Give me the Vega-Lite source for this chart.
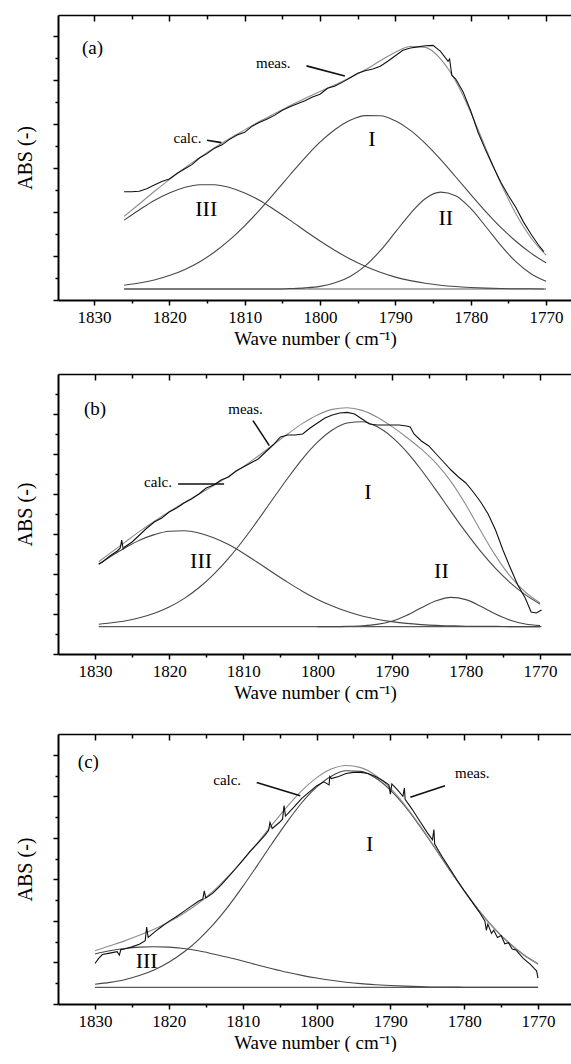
{
  "$schema": "https://vega.github.io/schema/vega-lite/v6.json",
  "padding": {"left": 15, "top": 14, "right": 0, "bottom": 0},
  "background": "white",
  "config": {
    "view": {"stroke": null},
    "font": "Liberation Serif",
    "axis": {"grid": false, "domainColor": "black", "tickColor": "black", "labelColor": "black", "titleColor": "black", "labelFont": "Liberation Serif", "titleFont": "Liberation Serif", "titleFontWeight": "normal"},
    "text": {"font": "Liberation Serif", "color": "black"}
  },
  "datasets": {
    "curves": [
      {"panel":"a","series":"base","wn":1826,"abs":0.5},{"panel":"a","series":"base","wn":1770.3,"abs":0.5},
      {"panel":"a","series":"I","wn":1826,"abs":0.67},{"panel":"a","series":"I","wn":1824,"abs":0.77},{"panel":"a","series":"I","wn":1822,"abs":0.91},{"panel":"a","series":"I","wn":1820,"abs":1.11},{"panel":"a","series":"I","wn":1818,"abs":1.38},{"panel":"a","series":"I","wn":1816,"abs":1.73},{"panel":"a","series":"I","wn":1814,"abs":2.18},{"panel":"a","series":"I","wn":1812,"abs":2.73},{"panel":"a","series":"I","wn":1810,"abs":3.37},{"panel":"a","series":"I","wn":1808,"abs":4.10},{"panel":"a","series":"I","wn":1806,"abs":4.88},{"panel":"a","series":"I","wn":1804,"abs":5.68},{"panel":"a","series":"I","wn":1802,"abs":6.46},{"panel":"a","series":"I","wn":1800,"abs":7.17},{"panel":"a","series":"I","wn":1798,"abs":7.75},{"panel":"a","series":"I","wn":1796,"abs":8.17},{"panel":"a","series":"I","wn":1794,"abs":8.38},{"panel":"a","series":"I","wn":1792,"abs":8.37},{"panel":"a","series":"I","wn":1790,"abs":8.14},{"panel":"a","series":"I","wn":1788,"abs":7.71},{"panel":"a","series":"I","wn":1786,"abs":7.11},{"panel":"a","series":"I","wn":1784,"abs":6.39},{"panel":"a","series":"I","wn":1782,"abs":5.60},{"panel":"a","series":"I","wn":1780,"abs":4.80},{"panel":"a","series":"I","wn":1778,"abs":4.02},{"panel":"a","series":"I","wn":1776,"abs":3.30},{"panel":"a","series":"I","wn":1774,"abs":2.67},{"panel":"a","series":"I","wn":1772,"abs":2.13},{"panel":"a","series":"I","wn":1770,"abs":1.69},
      {"panel":"a","series":"II","wn":1826,"abs":0.5},{"panel":"a","series":"II","wn":1816,"abs":0.5},{"panel":"a","series":"II","wn":1808,"abs":0.5},{"panel":"a","series":"II","wn":1806,"abs":0.50},{"panel":"a","series":"II","wn":1804,"abs":0.52},{"panel":"a","series":"II","wn":1802,"abs":0.55},{"panel":"a","series":"II","wn":1800,"abs":0.62},{"panel":"a","series":"II","wn":1798,"abs":0.78},{"panel":"a","series":"II","wn":1796,"abs":1.07},{"panel":"a","series":"II","wn":1794,"abs":1.55},{"panel":"a","series":"II","wn":1792,"abs":2.24},{"panel":"a","series":"II","wn":1790,"abs":3.08},{"panel":"a","series":"II","wn":1788,"abs":3.93},{"panel":"a","series":"II","wn":1786,"abs":4.61},{"panel":"a","series":"II","wn":1784,"abs":4.90},{"panel":"a","series":"II","wn":1782,"abs":4.74},{"panel":"a","series":"II","wn":1780,"abs":4.16},{"panel":"a","series":"II","wn":1778,"abs":3.34},{"panel":"a","series":"II","wn":1776,"abs":2.48},{"panel":"a","series":"II","wn":1774,"abs":1.74},{"panel":"a","series":"II","wn":1772,"abs":1.19},{"panel":"a","series":"II","wn":1770,"abs":0.85},
      {"panel":"a","series":"III","wn":1826,"abs":3.63},{"panel":"a","series":"III","wn":1824,"abs":4.09},{"panel":"a","series":"III","wn":1822,"abs":4.52},{"panel":"a","series":"III","wn":1820,"abs":4.86},{"panel":"a","series":"III","wn":1818,"abs":5.11},{"panel":"a","series":"III","wn":1816,"abs":5.24},{"panel":"a","series":"III","wn":1814,"abs":5.24},{"panel":"a","series":"III","wn":1812,"abs":5.11},{"panel":"a","series":"III","wn":1810,"abs":4.86},{"panel":"a","series":"III","wn":1808,"abs":4.52},{"panel":"a","series":"III","wn":1806,"abs":4.09},{"panel":"a","series":"III","wn":1804,"abs":3.63},{"panel":"a","series":"III","wn":1802,"abs":3.15},{"panel":"a","series":"III","wn":1800,"abs":2.68},{"panel":"a","series":"III","wn":1798,"abs":2.25},{"panel":"a","series":"III","wn":1796,"abs":1.86},{"panel":"a","series":"III","wn":1794,"abs":1.53},{"panel":"a","series":"III","wn":1792,"abs":1.26},{"panel":"a","series":"III","wn":1790,"abs":1.04},{"panel":"a","series":"III","wn":1788,"abs":0.88},{"panel":"a","series":"III","wn":1786,"abs":0.76},{"panel":"a","series":"III","wn":1784,"abs":0.67},{"panel":"a","series":"III","wn":1782,"abs":0.61},{"panel":"a","series":"III","wn":1780,"abs":0.57},{"panel":"a","series":"III","wn":1778,"abs":0.54},{"panel":"a","series":"III","wn":1776,"abs":0.52},{"panel":"a","series":"III","wn":1774,"abs":0.51},{"panel":"a","series":"III","wn":1772,"abs":0.51},{"panel":"a","series":"III","wn":1770,"abs":0.50},
      {"panel":"a","series":"calc","wn":1826,"abs":3.80},{"panel":"a","series":"calc","wn":1824,"abs":4.36},{"panel":"a","series":"calc","wn":1822,"abs":4.93},{"panel":"a","series":"calc","wn":1820,"abs":5.47},{"panel":"a","series":"calc","wn":1818,"abs":5.99},{"panel":"a","series":"calc","wn":1816,"abs":6.47},{"panel":"a","series":"calc","wn":1814,"abs":6.92},{"panel":"a","series":"calc","wn":1812,"abs":7.34},{"panel":"a","series":"calc","wn":1810,"abs":7.73},{"panel":"a","series":"calc","wn":1808,"abs":8.12},{"panel":"a","series":"calc","wn":1806,"abs":8.47},{"panel":"a","series":"calc","wn":1804,"abs":8.83},{"panel":"a","series":"calc","wn":1802,"abs":9.16},{"panel":"a","series":"calc","wn":1800,"abs":9.47},{"panel":"a","series":"calc","wn":1798,"abs":9.78},{"panel":"a","series":"calc","wn":1796,"abs":10.10},{"panel":"a","series":"calc","wn":1794,"abs":10.46},{"panel":"a","series":"calc","wn":1792,"abs":10.87},{"panel":"a","series":"calc","wn":1790,"abs":11.26},{"panel":"a","series":"calc","wn":1788,"abs":11.52},{"panel":"a","series":"calc","wn":1786,"abs":11.48},{"panel":"a","series":"calc","wn":1784,"abs":10.96},{"panel":"a","series":"calc","wn":1782,"abs":9.95},{"panel":"a","series":"calc","wn":1780,"abs":8.53},{"panel":"a","series":"calc","wn":1778,"abs":6.90},{"panel":"a","series":"calc","wn":1776,"abs":5.30},{"panel":"a","series":"calc","wn":1774,"abs":3.92},{"panel":"a","series":"calc","wn":1772,"abs":2.83},{"panel":"a","series":"calc","wn":1770,"abs":2.04},
      {"panel":"a","series":"meas","wn":1826,"abs":4.92},{"panel":"a","series":"meas","wn":1825,"abs":4.92},{"panel":"a","series":"meas","wn":1824,"abs":4.94},{"panel":"a","series":"meas","wn":1823,"abs":5.05},{"panel":"a","series":"meas","wn":1822,"abs":5.22},{"panel":"a","series":"meas","wn":1821,"abs":5.38},{"panel":"a","series":"meas","wn":1820,"abs":5.50},{"panel":"a","series":"meas","wn":1819,"abs":5.75},{"panel":"a","series":"meas","wn":1818,"abs":5.95},{"panel":"a","series":"meas","wn":1817,"abs":6.15},{"panel":"a","series":"meas","wn":1816,"abs":6.45},{"panel":"a","series":"meas","wn":1815,"abs":6.65},{"panel":"a","series":"meas","wn":1814,"abs":6.90},{"panel":"a","series":"meas","wn":1813,"abs":7.05},{"panel":"a","series":"meas","wn":1812,"abs":7.30},{"panel":"a","series":"meas","wn":1811,"abs":7.50},{"panel":"a","series":"meas","wn":1810,"abs":7.62},{"panel":"a","series":"meas","wn":1809,"abs":7.90},{"panel":"a","series":"meas","wn":1808,"abs":8.08},{"panel":"a","series":"meas","wn":1807,"abs":8.22},{"panel":"a","series":"meas","wn":1806,"abs":8.40},{"panel":"a","series":"meas","wn":1805,"abs":8.62},{"panel":"a","series":"meas","wn":1804,"abs":8.78},{"panel":"a","series":"meas","wn":1803,"abs":8.92},{"panel":"a","series":"meas","wn":1802,"abs":9.05},{"panel":"a","series":"meas","wn":1801,"abs":9.22},{"panel":"a","series":"meas","wn":1800,"abs":9.35},{"panel":"a","series":"meas","wn":1799,"abs":9.62},{"panel":"a","series":"meas","wn":1798,"abs":9.72},{"panel":"a","series":"meas","wn":1797,"abs":9.90},{"panel":"a","series":"meas","wn":1796,"abs":10.10},{"panel":"a","series":"meas","wn":1795,"abs":10.30},{"panel":"a","series":"meas","wn":1794,"abs":10.42},{"panel":"a","series":"meas","wn":1793,"abs":10.50},{"panel":"a","series":"meas","wn":1792,"abs":10.62},{"panel":"a","series":"meas","wn":1791,"abs":10.85},{"panel":"a","series":"meas","wn":1790,"abs":11.10},{"panel":"a","series":"meas","wn":1789,"abs":11.35},{"panel":"a","series":"meas","wn":1788,"abs":11.45},{"panel":"a","series":"meas","wn":1787,"abs":11.50},{"panel":"a","series":"meas","wn":1786,"abs":11.55},{"panel":"a","series":"meas","wn":1785,"abs":11.57},{"panel":"a","series":"meas","wn":1784,"abs":11.30},{"panel":"a","series":"meas","wn":1783,"abs":10.85},{"panel":"a","series":"meas","wn":1782.8,"abs":10.95},{"panel":"a","series":"meas","wn":1782.5,"abs":10.20},{"panel":"a","series":"meas","wn":1782,"abs":10.05},{"panel":"a","series":"meas","wn":1781,"abs":9.45},{"panel":"a","series":"meas","wn":1780,"abs":8.60},{"panel":"a","series":"meas","wn":1779,"abs":7.60},{"panel":"a","series":"meas","wn":1778,"abs":6.80},{"panel":"a","series":"meas","wn":1777,"abs":6.05},{"panel":"a","series":"meas","wn":1776,"abs":5.35},{"panel":"a","series":"meas","wn":1775,"abs":4.75},{"panel":"a","series":"meas","wn":1774,"abs":4.20},{"panel":"a","series":"meas","wn":1773,"abs":3.55},{"panel":"a","series":"meas","wn":1772,"abs":3.00},{"panel":"a","series":"meas","wn":1771,"abs":2.50},{"panel":"a","series":"meas","wn":1770.3,"abs":2.20},

      {"panel":"b","series":"base","wn":1829.5,"abs":1.37},{"panel":"b","series":"base","wn":1769.8,"abs":1.37},
      {"panel":"b","series":"I","wn":1829.5,"abs":1.49},{"panel":"b","series":"I","wn":1828,"abs":1.55},{"panel":"b","series":"I","wn":1826,"abs":1.65},{"panel":"b","series":"I","wn":1824,"abs":1.81},{"panel":"b","series":"I","wn":1822,"abs":2.04},{"panel":"b","series":"I","wn":1820,"abs":2.35},{"panel":"b","series":"I","wn":1818,"abs":2.77},{"panel":"b","series":"I","wn":1816,"abs":3.31},{"panel":"b","series":"I","wn":1814,"abs":3.98},{"panel":"b","series":"I","wn":1812,"abs":4.78},{"panel":"b","series":"I","wn":1810,"abs":5.70},{"panel":"b","series":"I","wn":1808,"abs":6.71},{"panel":"b","series":"I","wn":1806,"abs":7.76},{"panel":"b","series":"I","wn":1804,"abs":8.80},{"panel":"b","series":"I","wn":1802,"abs":9.77},{"panel":"b","series":"I","wn":1800,"abs":10.59},{"panel":"b","series":"I","wn":1798,"abs":11.20},{"panel":"b","series":"I","wn":1796,"abs":11.55},{"panel":"b","series":"I","wn":1794,"abs":11.61},{"panel":"b","series":"I","wn":1792,"abs":11.37},{"panel":"b","series":"I","wn":1790,"abs":10.86},{"panel":"b","series":"I","wn":1788,"abs":10.12},{"panel":"b","series":"I","wn":1786,"abs":9.20},{"panel":"b","series":"I","wn":1784,"abs":8.18},{"panel":"b","series":"I","wn":1782,"abs":7.12},{"panel":"b","series":"I","wn":1780,"abs":6.09},{"panel":"b","series":"I","wn":1778,"abs":5.13},{"panel":"b","series":"I","wn":1776,"abs":4.28},{"panel":"b","series":"I","wn":1774,"abs":3.56},{"panel":"b","series":"I","wn":1772,"abs":2.97},{"panel":"b","series":"I","wn":1770,"abs":2.50},
      {"panel":"b","series":"II","wn":1800,"abs":1.37},{"panel":"b","series":"II","wn":1798,"abs":1.37},{"panel":"b","series":"II","wn":1796,"abs":1.38},{"panel":"b","series":"II","wn":1794,"abs":1.41},{"panel":"b","series":"II","wn":1792,"abs":1.48},{"panel":"b","series":"II","wn":1790,"abs":1.64},{"panel":"b","series":"II","wn":1788,"abs":1.93},{"panel":"b","series":"II","wn":1786,"abs":2.31},{"panel":"b","series":"II","wn":1784,"abs":2.66},{"panel":"b","series":"II","wn":1782,"abs":2.83},{"panel":"b","series":"II","wn":1780,"abs":2.72},{"panel":"b","series":"II","wn":1778,"abs":2.39},{"panel":"b","series":"II","wn":1776,"abs":2.00},{"panel":"b","series":"II","wn":1774,"abs":1.69},{"panel":"b","series":"II","wn":1772,"abs":1.50},{"panel":"b","series":"II","wn":1770,"abs":1.42},
      {"panel":"b","series":"III","wn":1829.5,"abs":4.49},{"panel":"b","series":"III","wn":1828,"abs":4.85},{"panel":"b","series":"III","wn":1826,"abs":5.30},{"panel":"b","series":"III","wn":1824,"abs":5.69},{"panel":"b","series":"III","wn":1822,"abs":5.97},{"panel":"b","series":"III","wn":1820,"abs":6.14},{"panel":"b","series":"III","wn":1818,"abs":6.16},{"panel":"b","series":"III","wn":1816,"abs":6.05},{"panel":"b","series":"III","wn":1814,"abs":5.81},{"panel":"b","series":"III","wn":1812,"abs":5.47},{"panel":"b","series":"III","wn":1810,"abs":5.04},{"panel":"b","series":"III","wn":1808,"abs":4.56},{"panel":"b","series":"III","wn":1806,"abs":4.06},{"panel":"b","series":"III","wn":1804,"abs":3.58},{"panel":"b","series":"III","wn":1802,"abs":3.13},{"panel":"b","series":"III","wn":1800,"abs":2.73},{"panel":"b","series":"III","wn":1798,"abs":2.40},{"panel":"b","series":"III","wn":1796,"abs":2.12},{"panel":"b","series":"III","wn":1794,"abs":1.90},{"panel":"b","series":"III","wn":1792,"abs":1.74},{"panel":"b","series":"III","wn":1790,"abs":1.62},{"panel":"b","series":"III","wn":1788,"abs":1.53},{"panel":"b","series":"III","wn":1786,"abs":1.47},{"panel":"b","series":"III","wn":1784,"abs":1.43},{"panel":"b","series":"III","wn":1782,"abs":1.41},{"panel":"b","series":"III","wn":1780,"abs":1.39},{"panel":"b","series":"III","wn":1778,"abs":1.38},{"panel":"b","series":"III","wn":1776,"abs":1.38},{"panel":"b","series":"III","wn":1774,"abs":1.37},{"panel":"b","series":"III","wn":1772,"abs":1.37},{"panel":"b","series":"III","wn":1770,"abs":1.37},
      {"panel":"b","series":"calc","wn":1829.5,"abs":4.61},{"panel":"b","series":"calc","wn":1828,"abs":5.03},{"panel":"b","series":"calc","wn":1826,"abs":5.58},{"panel":"b","series":"calc","wn":1824,"abs":6.13},{"panel":"b","series":"calc","wn":1822,"abs":6.64},{"panel":"b","series":"calc","wn":1820,"abs":7.12},{"panel":"b","series":"calc","wn":1818,"abs":7.56},{"panel":"b","series":"calc","wn":1816,"abs":7.99},{"panel":"b","series":"calc","wn":1814,"abs":8.42},{"panel":"b","series":"calc","wn":1812,"abs":8.88},{"panel":"b","series":"calc","wn":1810,"abs":9.37},{"panel":"b","series":"calc","wn":1808,"abs":9.90},{"panel":"b","series":"calc","wn":1806,"abs":10.45},{"panel":"b","series":"calc","wn":1804,"abs":11.01},{"panel":"b","series":"calc","wn":1802,"abs":11.53},{"panel":"b","series":"calc","wn":1800,"abs":11.95},{"panel":"b","series":"calc","wn":1798,"abs":12.23},{"panel":"b","series":"calc","wn":1796,"abs":12.31},{"panel":"b","series":"calc","wn":1794,"abs":12.18},{"panel":"b","series":"calc","wn":1792,"abs":11.85},{"panel":"b","series":"calc","wn":1790,"abs":11.38},{"panel":"b","series":"calc","wn":1788,"abs":10.84},{"panel":"b","series":"calc","wn":1786,"abs":10.24},{"panel":"b","series":"calc","wn":1784,"abs":9.53},{"panel":"b","series":"calc","wn":1782,"abs":8.62},{"panel":"b","series":"calc","wn":1780,"abs":7.46},{"panel":"b","series":"calc","wn":1778,"abs":6.16},{"panel":"b","series":"calc","wn":1776,"abs":4.92},{"panel":"b","series":"calc","wn":1774,"abs":3.88},{"panel":"b","series":"calc","wn":1772,"abs":3.10},{"panel":"b","series":"calc","wn":1770,"abs":2.55},
      {"panel":"b","series":"meas","wn":1829.5,"abs":4.5},{"panel":"b","series":"meas","wn":1829,"abs":4.6},{"panel":"b","series":"meas","wn":1828,"abs":4.9},{"panel":"b","series":"meas","wn":1827,"abs":5.15},{"panel":"b","series":"meas","wn":1826.6,"abs":5.3},{"panel":"b","series":"meas","wn":1826.4,"abs":5.7},{"panel":"b","series":"meas","wn":1826.2,"abs":5.25},{"panel":"b","series":"meas","wn":1826,"abs":5.35},{"panel":"b","series":"meas","wn":1825,"abs":5.6},{"panel":"b","series":"meas","wn":1824,"abs":5.95},{"panel":"b","series":"meas","wn":1823,"abs":6.3},{"panel":"b","series":"meas","wn":1822,"abs":6.6},{"panel":"b","series":"meas","wn":1821,"abs":6.8},{"panel":"b","series":"meas","wn":1820,"abs":7.1},{"panel":"b","series":"meas","wn":1819,"abs":7.3},{"panel":"b","series":"meas","wn":1818,"abs":7.55},{"panel":"b","series":"meas","wn":1817,"abs":7.75},{"panel":"b","series":"meas","wn":1816,"abs":8.0},{"panel":"b","series":"meas","wn":1815,"abs":8.3},{"panel":"b","series":"meas","wn":1814,"abs":8.45},{"panel":"b","series":"meas","wn":1813,"abs":8.7},{"panel":"b","series":"meas","wn":1812,"abs":8.85},{"panel":"b","series":"meas","wn":1811,"abs":9.15},{"panel":"b","series":"meas","wn":1810,"abs":9.35},{"panel":"b","series":"meas","wn":1809,"abs":9.55},{"panel":"b","series":"meas","wn":1808,"abs":9.75},{"panel":"b","series":"meas","wn":1807,"abs":10.1},{"panel":"b","series":"meas","wn":1806,"abs":10.45},{"panel":"b","series":"meas","wn":1805,"abs":10.85},{"panel":"b","series":"meas","wn":1804,"abs":10.95},{"panel":"b","series":"meas","wn":1803,"abs":10.95},{"panel":"b","series":"meas","wn":1802,"abs":11.0},{"panel":"b","series":"meas","wn":1801,"abs":11.3},{"panel":"b","series":"meas","wn":1800,"abs":11.55},{"panel":"b","series":"meas","wn":1799,"abs":11.8},{"panel":"b","series":"meas","wn":1798,"abs":11.95},{"panel":"b","series":"meas","wn":1797,"abs":12.05},{"panel":"b","series":"meas","wn":1796,"abs":12.08},{"panel":"b","series":"meas","wn":1795,"abs":12.0},{"panel":"b","series":"meas","wn":1794,"abs":11.75},{"panel":"b","series":"meas","wn":1793,"abs":11.5},{"panel":"b","series":"meas","wn":1792,"abs":11.45},{"panel":"b","series":"meas","wn":1791,"abs":11.45},{"panel":"b","series":"meas","wn":1790,"abs":11.45},{"panel":"b","series":"meas","wn":1789,"abs":11.45},{"panel":"b","series":"meas","wn":1788,"abs":11.4},{"panel":"b","series":"meas","wn":1787.5,"abs":11.35},{"panel":"b","series":"meas","wn":1787,"abs":11.0},{"panel":"b","series":"meas","wn":1786,"abs":10.65},{"panel":"b","series":"meas","wn":1785,"abs":10.4},{"panel":"b","series":"meas","wn":1784,"abs":10.0},{"panel":"b","series":"meas","wn":1783,"abs":9.6},{"panel":"b","series":"meas","wn":1782,"abs":9.2},{"panel":"b","series":"meas","wn":1781,"abs":8.85},{"panel":"b","series":"meas","wn":1780,"abs":8.55},{"panel":"b","series":"meas","wn":1779,"abs":8.1},{"panel":"b","series":"meas","wn":1778,"abs":7.6},{"panel":"b","series":"meas","wn":1777,"abs":7.0},{"panel":"b","series":"meas","wn":1776,"abs":6.2},{"panel":"b","series":"meas","wn":1775,"abs":5.2},{"panel":"b","series":"meas","wn":1774,"abs":4.3},{"panel":"b","series":"meas","wn":1773,"abs":3.45},{"panel":"b","series":"meas","wn":1772,"abs":2.8},{"panel":"b","series":"meas","wn":1771.2,"abs":2.1},{"panel":"b","series":"meas","wn":1770.5,"abs":2.05},{"panel":"b","series":"meas","wn":1769.8,"abs":2.2},

      {"panel":"c","series":"base","wn":1830,"abs":0.8},{"panel":"c","series":"base","wn":1770,"abs":0.8},
      {"panel":"c","series":"I","wn":1830,"abs":0.95},{"panel":"c","series":"I","wn":1828,"abs":1.04},{"panel":"c","series":"I","wn":1826,"abs":1.17},{"panel":"c","series":"I","wn":1824,"abs":1.37},{"panel":"c","series":"I","wn":1822,"abs":1.64},{"panel":"c","series":"I","wn":1820,"abs":2.01},{"panel":"c","series":"I","wn":1818,"abs":2.49},{"panel":"c","series":"I","wn":1816,"abs":3.09},{"panel":"c","series":"I","wn":1814,"abs":3.82},{"panel":"c","series":"I","wn":1812,"abs":4.68},{"panel":"c","series":"I","wn":1810,"abs":5.65},{"panel":"c","series":"I","wn":1808,"abs":6.68},{"panel":"c","series":"I","wn":1806,"abs":7.74},{"panel":"c","series":"I","wn":1804,"abs":8.76},{"panel":"c","series":"I","wn":1802,"abs":9.69},{"panel":"c","series":"I","wn":1800,"abs":10.44},{"panel":"c","series":"I","wn":1798,"abs":10.97},{"panel":"c","series":"I","wn":1796,"abs":11.23},{"panel":"c","series":"I","wn":1794,"abs":11.20},{"panel":"c","series":"I","wn":1792,"abs":10.88},{"panel":"c","series":"I","wn":1790,"abs":10.30},{"panel":"c","series":"I","wn":1788,"abs":9.51},{"panel":"c","series":"I","wn":1786,"abs":8.56},{"panel":"c","series":"I","wn":1784,"abs":7.53},{"panel":"c","series":"I","wn":1782,"abs":6.47},{"panel":"c","series":"I","wn":1780,"abs":5.45},{"panel":"c","series":"I","wn":1778,"abs":4.50},{"panel":"c","series":"I","wn":1776,"abs":3.67},{"panel":"c","series":"I","wn":1774,"abs":2.96},{"panel":"c","series":"I","wn":1772,"abs":2.38},{"panel":"c","series":"I","wn":1770,"abs":1.93},
      {"panel":"c","series":"III","wn":1830,"abs":2.41},{"panel":"c","series":"III","wn":1828,"abs":2.56},{"panel":"c","series":"III","wn":1826,"abs":2.67},{"panel":"c","series":"III","wn":1824,"abs":2.74},{"panel":"c","series":"III","wn":1822,"abs":2.76},{"panel":"c","series":"III","wn":1820,"abs":2.74},{"panel":"c","series":"III","wn":1818,"abs":2.67},{"panel":"c","series":"III","wn":1816,"abs":2.56},{"panel":"c","series":"III","wn":1814,"abs":2.41},{"panel":"c","series":"III","wn":1812,"abs":2.25},{"panel":"c","series":"III","wn":1810,"abs":2.07},{"panel":"c","series":"III","wn":1808,"abs":1.88},{"panel":"c","series":"III","wn":1806,"abs":1.70},{"panel":"c","series":"III","wn":1804,"abs":1.53},{"panel":"c","series":"III","wn":1802,"abs":1.38},{"panel":"c","series":"III","wn":1800,"abs":1.25},{"panel":"c","series":"III","wn":1798,"abs":1.14},{"panel":"c","series":"III","wn":1796,"abs":1.05},{"panel":"c","series":"III","wn":1794,"abs":0.98},{"panel":"c","series":"III","wn":1792,"abs":0.93},{"panel":"c","series":"III","wn":1790,"abs":0.89},{"panel":"c","series":"III","wn":1788,"abs":0.86},{"panel":"c","series":"III","wn":1786,"abs":0.84},{"panel":"c","series":"III","wn":1784,"abs":0.82},{"panel":"c","series":"III","wn":1782,"abs":0.82},{"panel":"c","series":"III","wn":1780,"abs":0.81},{"panel":"c","series":"III","wn":1776,"abs":0.80},{"panel":"c","series":"III","wn":1770,"abs":0.80},
      {"panel":"c","series":"calc","wn":1830,"abs":2.56},{"panel":"c","series":"calc","wn":1828,"abs":2.80},{"panel":"c","series":"calc","wn":1826,"abs":3.04},{"panel":"c","series":"calc","wn":1824,"abs":3.31},{"panel":"c","series":"calc","wn":1822,"abs":3.60},{"panel":"c","series":"calc","wn":1820,"abs":3.95},{"panel":"c","series":"calc","wn":1818,"abs":4.36},{"panel":"c","series":"calc","wn":1816,"abs":4.85},{"panel":"c","series":"calc","wn":1814,"abs":5.43},{"panel":"c","series":"calc","wn":1812,"abs":6.13},{"panel":"c","series":"calc","wn":1810,"abs":6.92},{"panel":"c","series":"calc","wn":1808,"abs":7.76},{"panel":"c","series":"calc","wn":1806,"abs":8.64},{"panel":"c","series":"calc","wn":1804,"abs":9.49},{"panel":"c","series":"calc","wn":1802,"abs":10.27},{"panel":"c","series":"calc","wn":1800,"abs":10.89},{"panel":"c","series":"calc","wn":1798,"abs":11.31},{"panel":"c","series":"calc","wn":1796,"abs":11.48},{"panel":"c","series":"calc","wn":1794,"abs":11.38},{"panel":"c","series":"calc","wn":1792,"abs":11.01},{"panel":"c","series":"calc","wn":1790,"abs":10.39},{"panel":"c","series":"calc","wn":1788,"abs":9.57},{"panel":"c","series":"calc","wn":1786,"abs":8.60},{"panel":"c","series":"calc","wn":1784,"abs":7.55},{"panel":"c","series":"calc","wn":1782,"abs":6.49},{"panel":"c","series":"calc","wn":1780,"abs":5.46},{"panel":"c","series":"calc","wn":1778,"abs":4.50},{"panel":"c","series":"calc","wn":1776,"abs":3.67},{"panel":"c","series":"calc","wn":1774,"abs":2.96},{"panel":"c","series":"calc","wn":1772,"abs":2.38},{"panel":"c","series":"calc","wn":1770,"abs":1.93},
      {"panel":"c","series":"meas","wn":1830,"abs":1.95},{"panel":"c","series":"meas","wn":1829.5,"abs":2.2},{"panel":"c","series":"meas","wn":1829,"abs":2.38},{"panel":"c","series":"meas","wn":1828,"abs":2.45},{"panel":"c","series":"meas","wn":1827,"abs":2.52},{"panel":"c","series":"meas","wn":1826.7,"abs":2.35},{"panel":"c","series":"meas","wn":1826.5,"abs":2.62},{"panel":"c","series":"meas","wn":1826,"abs":2.65},{"panel":"c","series":"meas","wn":1825,"abs":2.75},{"panel":"c","series":"meas","wn":1824,"abs":2.88},{"panel":"c","series":"meas","wn":1823.2,"abs":3.05},{"panel":"c","series":"meas","wn":1823,"abs":3.7},{"panel":"c","series":"meas","wn":1822.8,"abs":3.2},{"panel":"c","series":"meas","wn":1822,"abs":3.45},{"panel":"c","series":"meas","wn":1821,"abs":3.72},{"panel":"c","series":"meas","wn":1820,"abs":3.98},{"panel":"c","series":"meas","wn":1819,"abs":4.2},{"panel":"c","series":"meas","wn":1818,"abs":4.45},{"panel":"c","series":"meas","wn":1817,"abs":4.7},{"panel":"c","series":"meas","wn":1816,"abs":4.95},{"panel":"c","series":"meas","wn":1815.4,"abs":5.05},{"panel":"c","series":"meas","wn":1815.2,"abs":5.45},{"panel":"c","series":"meas","wn":1815,"abs":5.1},{"panel":"c","series":"meas","wn":1814,"abs":5.35},{"panel":"c","series":"meas","wn":1813,"abs":5.7},{"panel":"c","series":"meas","wn":1812,"abs":6.1},{"panel":"c","series":"meas","wn":1811,"abs":6.5},{"panel":"c","series":"meas","wn":1810,"abs":6.92},{"panel":"c","series":"meas","wn":1809,"abs":7.35},{"panel":"c","series":"meas","wn":1808,"abs":7.72},{"panel":"c","series":"meas","wn":1807,"abs":8.12},{"panel":"c","series":"meas","wn":1806.5,"abs":8.35},{"panel":"c","series":"meas","wn":1806.3,"abs":8.75},{"panel":"c","series":"meas","wn":1806,"abs":8.45},{"panel":"c","series":"meas","wn":1805,"abs":8.75},{"panel":"c","series":"meas","wn":1804.6,"abs":8.9},{"panel":"c","series":"meas","wn":1804.4,"abs":9.55},{"panel":"c","series":"meas","wn":1804.2,"abs":9.05},{"panel":"c","series":"meas","wn":1803,"abs":9.5},{"panel":"c","series":"meas","wn":1802,"abs":9.9},{"panel":"c","series":"meas","wn":1801,"abs":10.2},{"panel":"c","series":"meas","wn":1800,"abs":10.5},{"panel":"c","series":"meas","wn":1799,"abs":10.7},{"panel":"c","series":"meas","wn":1798.3,"abs":10.55},{"panel":"c","series":"meas","wn":1798.2,"abs":10.95},{"panel":"c","series":"meas","wn":1798,"abs":10.85},{"panel":"c","series":"meas","wn":1797,"abs":10.95},{"panel":"c","series":"meas","wn":1796,"abs":11.1},{"panel":"c","series":"meas","wn":1795,"abs":11.15},{"panel":"c","series":"meas","wn":1794,"abs":11.15},{"panel":"c","series":"meas","wn":1793,"abs":11.1},{"panel":"c","series":"meas","wn":1792,"abs":10.95},{"panel":"c","series":"meas","wn":1791,"abs":10.75},{"panel":"c","series":"meas","wn":1790.2,"abs":10.55},{"panel":"c","series":"meas","wn":1790,"abs":10.1},{"panel":"c","series":"meas","wn":1789.8,"abs":10.6},{"panel":"c","series":"meas","wn":1789,"abs":10.3},{"panel":"c","series":"meas","wn":1788.3,"abs":10.0},{"panel":"c","series":"meas","wn":1788.1,"abs":10.4},{"panel":"c","series":"meas","wn":1788,"abs":9.85},{"panel":"c","series":"meas","wn":1787,"abs":9.35},{"panel":"c","series":"meas","wn":1786,"abs":8.8},{"panel":"c","series":"meas","wn":1785,"abs":8.25},{"panel":"c","series":"meas","wn":1784.3,"abs":7.9},{"panel":"c","series":"meas","wn":1784.1,"abs":8.4},{"panel":"c","series":"meas","wn":1784,"abs":7.7},{"panel":"c","series":"meas","wn":1783,"abs":7.1},{"panel":"c","series":"meas","wn":1782,"abs":6.55},{"panel":"c","series":"meas","wn":1781,"abs":5.98},{"panel":"c","series":"meas","wn":1780,"abs":5.45},{"panel":"c","series":"meas","wn":1779,"abs":4.95},{"panel":"c","series":"meas","wn":1778,"abs":4.45},{"panel":"c","series":"meas","wn":1777.2,"abs":4.0},{"panel":"c","series":"meas","wn":1777,"abs":3.55},{"panel":"c","series":"meas","wn":1776.8,"abs":3.85},{"panel":"c","series":"meas","wn":1776.3,"abs":3.4},{"panel":"c","series":"meas","wn":1776,"abs":3.55},{"panel":"c","series":"meas","wn":1775.5,"abs":3.2},{"panel":"c","series":"meas","wn":1775,"abs":3.3},{"panel":"c","series":"meas","wn":1774.5,"abs":2.9},{"panel":"c","series":"meas","wn":1774,"abs":2.95},{"panel":"c","series":"meas","wn":1773.5,"abs":2.65},{"panel":"c","series":"meas","wn":1773,"abs":2.6},{"panel":"c","series":"meas","wn":1772,"abs":2.2},{"panel":"c","series":"meas","wn":1771,"abs":1.9},{"panel":"c","series":"meas","wn":1770.5,"abs":1.7},{"panel":"c","series":"meas","wn":1770.2,"abs":1.6},{"panel":"c","series":"meas","wn":1770,"abs":1.25}
    ],
    "labels": [
      {"panel":"a","kind":"tag","text":"(a)","wn":1830.2,"abs":11.47},
      {"panel":"a","kind":"note","text":"meas.","wn":1806.2,"abs":10.79},
      {"panel":"a","kind":"note","text":"calc.","wn":1817.6,"abs":7.38},
      {"panel":"a","kind":"num","text":"I","wn":1793.1,"abs":7.3},
      {"panel":"a","kind":"num","text":"III","wn":1815.1,"abs":4.12},
      {"panel":"a","kind":"num","text":"II","wn":1783.3,"abs":3.74},
      {"panel":"b","kind":"tag","text":"(b)","wn":1830.0,"abs":12.25},
      {"panel":"b","kind":"note","text":"meas.","wn":1809.7,"abs":12.25},
      {"panel":"b","kind":"note","text":"calc.","wn":1821.5,"abs":8.58},
      {"panel":"b","kind":"num","text":"I","wn":1793.2,"abs":8.08},
      {"panel":"b","kind":"num","text":"III","wn":1815.7,"abs":4.67},
      {"panel":"b","kind":"num","text":"II","wn":1783.3,"abs":4.17},
      {"panel":"c","kind":"tag","text":"(c)","wn":1830.9,"abs":11.64},
      {"panel":"c","kind":"note","text":"calc.","wn":1812.1,"abs":10.79},
      {"panel":"c","kind":"note","text":"meas.","wn":1778.9,"abs":11.1},
      {"panel":"c","kind":"num","text":"I","wn":1792.8,"abs":7.7},
      {"panel":"c","kind":"num","text":"III","wn":1823.0,"abs":2.09}
    ],
    "arrows": [
      {"panel":"a","wn":1801.8,"abs":10.64,"wn2":1796.7,"abs2":10.18},
      {"panel":"a","wn":1815.0,"abs":7.26,"wn2":1813.1,"abs2":7.15},
      {"panel":"b","wn":1808.7,"abs":11.67,"wn2":1806.5,"abs2":10.42},
      {"panel":"b","wn":1818.8,"abs":8.5,"wn2":1812.6,"abs2":8.5},
      {"panel":"c","wn":1808.1,"abs":10.67,"wn2":1802.2,"abs2":10.03},
      {"panel":"c","wn":1782.6,"abs":10.51,"wn2":1787.3,"abs2":9.95}
    ]
  },
  "bounds": "flush",
  "spacing": 74,
  "vconcat": [
    {
      "width": 514, "height": 285,
      "resolve": {"axis": {"x": "independent", "y": "independent"}},
      "layer": [
        {
          "data": {"name": "curves"},
          "transform": [{"filter": "datum.panel === 'a' && datum.series !== 'meas'"}],
          "mark": {"type": "line", "interpolate": "monotone", "strokeWidth": 1.1},
          "encoding": {
            "x": {"field": "wn", "type": "quantitative", "scale": {"domain": [1766.55, 1834.78], "reverse": true, "nice": false, "zero": false},
              "axis": {"orient": "bottom", "values": [1770,1775,1780,1785,1790,1795,1800,1805,1810,1815,1820,1825,1830], "format": "d", "labelExpr": "datum.value % 10 === 0 ? datum.label : ''", "tickSize": {"condition": {"test": "datum.value % 10 === 0", "value": 5}, "value": 3}, "tickWidth": 1.5, "domainWidth": 2, "labelFontSize": 17, "labelPadding": 4, "labelFlush": false, "labelOverlap": false, "title": "Wave number ( cm⁻¹)", "titleFontSize": 19, "titlePadding": 4}},
            "y": {"field": "abs", "type": "quantitative", "scale": {"domain": [0, 12.95], "nice": false, "zero": false},
              "axis": {"orient": "left", "values": [0,1,2,3,4,5,6,7,8,9,10,11,12], "labels": false, "tickSize": {"condition": {"test": "datum.value % 2 === 0", "value": 5}, "value": 3}, "tickWidth": 1.5, "domainWidth": 2, "title": "ABS (-)", "titleFontSize": 20, "titlePadding": 17}},
            "color": {"field": "series", "type": "nominal", "scale": {"domain": ["base","I","II","III","calc"], "range": ["#5a5a5a","#474747","#474747","#474747","#8c8c8c"]}, "legend": null}
          }
        },
        {
          "data": {"name": "curves"},
          "transform": [{"filter": "datum.panel === 'a' && datum.series === 'meas'"}],
          "mark": {"type": "line", "color": "#111111", "strokeWidth": 1.1},
          "encoding": {
            "x": {"field": "wn", "type": "quantitative", "scale": {"domain": [1766.55, 1834.78], "reverse": true, "nice": false, "zero": false}, "axis": null},
            "y": {"field": "abs", "type": "quantitative", "scale": {"domain": [0, 12.95], "nice": false, "zero": false}, "axis": null}
          }
        },
        {
          "data": {"name": "arrows"},
          "transform": [{"filter": "datum.panel === 'a'"}],
          "mark": {"type": "rule", "color": "#111111", "strokeWidth": 1.7},
          "encoding": {
            "x": {"field": "wn", "type": "quantitative", "scale": {"domain": [1766.55, 1834.78], "reverse": true, "nice": false, "zero": false},
              "axis": {"orient": "top", "values": [1770,1775,1780,1785,1790,1795,1800,1805,1810,1815,1820,1825,1830], "labels": false, "title": null, "tickSize": {"condition": {"test": "datum.value % 10 === 0", "value": -6}, "value": -4}, "tickWidth": 1.5, "domainWidth": 1.5}},
            "y": {"field": "abs", "type": "quantitative", "scale": {"domain": [0, 12.95], "nice": false, "zero": false}, "axis": null},
            "x2": {"field": "wn2"},
            "y2": {"field": "abs2"}
          }
        },
        {
          "data": {"name": "labels"},
          "transform": [{"filter": "datum.panel === 'a' && datum.kind === 'tag'"}],
          "mark": {"type": "text", "fontSize": 19, "baseline": "middle", "align": "center"},
          "encoding": {
            "x": {"field": "wn", "type": "quantitative", "scale": {"domain": [1766.55, 1834.78], "reverse": true, "nice": false, "zero": false}, "axis": null},
            "y": {"field": "abs", "type": "quantitative", "scale": {"domain": [0, 12.95], "nice": false, "zero": false}, "axis": null},
            "text": {"field": "text"}
          }
        },
        {
          "data": {"name": "labels"},
          "transform": [{"filter": "datum.panel === 'a' && datum.kind === 'note'"}],
          "mark": {"type": "text", "fontSize": 15, "baseline": "middle", "align": "center"},
          "encoding": {
            "x": {"field": "wn", "type": "quantitative", "scale": {"domain": [1766.55, 1834.78], "reverse": true, "nice": false, "zero": false}, "axis": null},
            "y": {"field": "abs", "type": "quantitative", "scale": {"domain": [0, 12.95], "nice": false, "zero": false}, "axis": null},
            "text": {"field": "text"}
          }
        },
        {
          "data": {"name": "labels"},
          "transform": [{"filter": "datum.panel === 'a' && datum.kind === 'num'"}],
          "mark": {"type": "text", "fontSize": 22, "baseline": "middle", "align": "center"},
          "encoding": {
            "x": {"field": "wn", "type": "quantitative", "scale": {"domain": [1766.55, 1834.78], "reverse": true, "nice": false, "zero": false}, "axis": null},
            "y": {"field": "abs", "type": "quantitative", "scale": {"domain": [0, 12.95], "nice": false, "zero": false}, "axis": null},
            "text": {"field": "text"}
          }
        }
      ]
    },
    {
      "bounds": "flush",
      "spacing": 80,
      "vconcat": [
        {
          "width": 514, "height": 280,
          "resolve": {"axis": {"x": "independent", "y": "independent"}},
          "layer": [
            {
              "data": {"name": "curves"},
              "transform": [{"filter": "datum.panel === 'b' && datum.series !== 'meas'"}],
              "mark": {"type": "line", "interpolate": "monotone", "strokeWidth": 1.1},
              "encoding": {
                "x": {"field": "wn", "type": "quantitative", "scale": {"domain": [1765.69, 1834.99], "reverse": true, "nice": false, "zero": false},
                  "axis": {"orient": "bottom", "values": [1770,1775,1780,1785,1790,1795,1800,1805,1810,1815,1820,1825,1830], "format": "d", "labelExpr": "datum.value % 10 === 0 ? datum.label : ''", "tickSize": {"condition": {"test": "datum.value % 10 === 0", "value": 5}, "value": 3}, "tickWidth": 1.5, "domainWidth": 2, "labelFontSize": 17, "labelPadding": 4, "labelFlush": false, "labelOverlap": false, "title": "Wave number ( cm⁻¹)", "titleFontSize": 19, "titlePadding": 4}},
                "y": {"field": "abs", "type": "quantitative", "scale": {"domain": [0, 14], "nice": false, "zero": false},
                  "axis": {"orient": "left", "values": [0,1,2,3,4,5,6,7,8,9,10,11,12,13], "labels": false, "tickSize": {"condition": {"test": "datum.value % 2 === 0", "value": 5}, "value": 3}, "tickWidth": 1.5, "domainWidth": 2, "title": "ABS (-)", "titleFontSize": 20, "titlePadding": 17}},
                "color": {"field": "series", "type": "nominal", "scale": {"domain": ["base","I","II","III","calc"], "range": ["#5a5a5a","#474747","#474747","#474747","#8c8c8c"]}, "legend": null}
              }
            },
            {
              "data": {"name": "curves"},
              "transform": [{"filter": "datum.panel === 'b' && datum.series === 'meas'"}],
              "mark": {"type": "line", "color": "#111111", "strokeWidth": 1.1},
              "encoding": {
                "x": {"field": "wn", "type": "quantitative", "scale": {"domain": [1765.69, 1834.99], "reverse": true, "nice": false, "zero": false}, "axis": null},
                "y": {"field": "abs", "type": "quantitative", "scale": {"domain": [0, 14], "nice": false, "zero": false}, "axis": null}
              }
            },
            {
              "data": {"name": "arrows"},
              "transform": [{"filter": "datum.panel === 'b'"}],
              "mark": {"type": "rule", "color": "#111111", "strokeWidth": 1.6},
              "encoding": {
                "x": {"field": "wn", "type": "quantitative", "scale": {"domain": [1765.69, 1834.99], "reverse": true, "nice": false, "zero": false},
                  "axis": {"orient": "top", "values": [1770,1775,1780,1785,1790,1795,1800,1805,1810,1815,1820,1825,1830], "labels": false, "title": null, "tickSize": {"condition": {"test": "datum.value % 10 === 0", "value": -6}, "value": -4}, "tickWidth": 1.5, "domainWidth": 1.5}},
                "y": {"field": "abs", "type": "quantitative", "scale": {"domain": [0, 14], "nice": false, "zero": false}, "axis": null},
                "x2": {"field": "wn2"},
                "y2": {"field": "abs2"}
              }
            },
            {
              "data": {"name": "labels"},
              "transform": [{"filter": "datum.panel === 'b' && datum.kind === 'tag'"}],
              "mark": {"type": "text", "fontSize": 19, "baseline": "middle", "align": "center"},
              "encoding": {
                "x": {"field": "wn", "type": "quantitative", "scale": {"domain": [1765.69, 1834.99], "reverse": true, "nice": false, "zero": false}, "axis": null},
                "y": {"field": "abs", "type": "quantitative", "scale": {"domain": [0, 14], "nice": false, "zero": false}, "axis": null},
                "text": {"field": "text"}
              }
            },
            {
              "data": {"name": "labels"},
              "transform": [{"filter": "datum.panel === 'b' && datum.kind === 'note'"}],
              "mark": {"type": "text", "fontSize": 15, "baseline": "middle", "align": "center"},
              "encoding": {
                "x": {"field": "wn", "type": "quantitative", "scale": {"domain": [1765.69, 1834.99], "reverse": true, "nice": false, "zero": false}, "axis": null},
                "y": {"field": "abs", "type": "quantitative", "scale": {"domain": [0, 14], "nice": false, "zero": false}, "axis": null},
                "text": {"field": "text"}
              }
            },
            {
              "data": {"name": "labels"},
              "transform": [{"filter": "datum.panel === 'b' && datum.kind === 'num'"}],
              "mark": {"type": "text", "fontSize": 22, "baseline": "middle", "align": "center"},
              "encoding": {
                "x": {"field": "wn", "type": "quantitative", "scale": {"domain": [1765.69, 1834.99], "reverse": true, "nice": false, "zero": false}, "axis": null},
                "y": {"field": "abs", "type": "quantitative", "scale": {"domain": [0, 14], "nice": false, "zero": false}, "axis": null},
                "text": {"field": "text"}
              }
            }
          ]
        },
        {
          "width": 514, "height": 270,
          "resolve": {"axis": {"x": "independent", "y": "independent"}},
          "layer": [
            {
              "data": {"name": "curves"},
              "transform": [{"filter": "datum.panel === 'c' && datum.series !== 'meas'"}],
              "mark": {"type": "line", "interpolate": "monotone", "strokeWidth": 1.1},
              "encoding": {
                "x": {"field": "wn", "type": "quantitative", "scale": {"domain": [1765.4, 1835.01], "reverse": true, "nice": false, "zero": false},
                  "axis": {"orient": "bottom", "values": [1770,1775,1780,1785,1790,1795,1800,1805,1810,1815,1820,1825,1830], "format": "d", "labelExpr": "datum.value % 10 === 0 ? datum.label : ''", "tickSize": {"condition": {"test": "datum.value % 10 === 0", "value": 5}, "value": 3}, "tickWidth": 1.5, "domainWidth": 2, "labelFontSize": 17, "labelPadding": 4, "labelFlush": false, "labelOverlap": false, "title": "Wave number ( cm⁻¹)", "titleFontSize": 19, "titlePadding": 4}},
                "y": {"field": "abs", "type": "quantitative", "scale": {"domain": [0, 13], "nice": false, "zero": false},
                  "axis": {"orient": "left", "values": [0,1,2,3,4,5,6,7,8,9,10,11,12], "labels": false, "tickSize": {"condition": {"test": "datum.value % 2 === 0", "value": 5}, "value": 3}, "tickWidth": 1.5, "domainWidth": 2, "title": "ABS (-)", "titleFontSize": 20, "titlePadding": 17}},
                "color": {"field": "series", "type": "nominal", "scale": {"domain": ["base","I","II","III","calc"], "range": ["#5a5a5a","#474747","#474747","#474747","#8c8c8c"]}, "legend": null}
              }
            },
            {
              "data": {"name": "curves"},
              "transform": [{"filter": "datum.panel === 'c' && datum.series === 'meas'"}],
              "mark": {"type": "line", "color": "#111111", "strokeWidth": 1.1},
              "encoding": {
                "x": {"field": "wn", "type": "quantitative", "scale": {"domain": [1765.4, 1835.01], "reverse": true, "nice": false, "zero": false}, "axis": null},
                "y": {"field": "abs", "type": "quantitative", "scale": {"domain": [0, 13], "nice": false, "zero": false}, "axis": null}
              }
            },
            {
              "data": {"name": "arrows"},
              "transform": [{"filter": "datum.panel === 'c'"}],
              "mark": {"type": "rule", "color": "#111111", "strokeWidth": 1.6},
              "encoding": {
                "x": {"field": "wn", "type": "quantitative", "scale": {"domain": [1765.4, 1835.01], "reverse": true, "nice": false, "zero": false},
                  "axis": {"orient": "top", "values": [1770,1775,1780,1785,1790,1795,1800,1805,1810,1815,1820,1825,1830], "labels": false, "title": null, "tickSize": {"condition": {"test": "datum.value % 10 === 0", "value": -6}, "value": -4}, "tickWidth": 1.5, "domainWidth": 1.5}},
                "y": {"field": "abs", "type": "quantitative", "scale": {"domain": [0, 13], "nice": false, "zero": false}, "axis": null},
                "x2": {"field": "wn2"},
                "y2": {"field": "abs2"}
              }
            },
            {
              "data": {"name": "labels"},
              "transform": [{"filter": "datum.panel === 'c' && datum.kind === 'tag'"}],
              "mark": {"type": "text", "fontSize": 19, "baseline": "middle", "align": "center"},
              "encoding": {
                "x": {"field": "wn", "type": "quantitative", "scale": {"domain": [1765.4, 1835.01], "reverse": true, "nice": false, "zero": false}, "axis": null},
                "y": {"field": "abs", "type": "quantitative", "scale": {"domain": [0, 13], "nice": false, "zero": false}, "axis": null},
                "text": {"field": "text"}
              }
            },
            {
              "data": {"name": "labels"},
              "transform": [{"filter": "datum.panel === 'c' && datum.kind === 'note'"}],
              "mark": {"type": "text", "fontSize": 15, "baseline": "middle", "align": "center"},
              "encoding": {
                "x": {"field": "wn", "type": "quantitative", "scale": {"domain": [1765.4, 1835.01], "reverse": true, "nice": false, "zero": false}, "axis": null},
                "y": {"field": "abs", "type": "quantitative", "scale": {"domain": [0, 13], "nice": false, "zero": false}, "axis": null},
                "text": {"field": "text"}
              }
            },
            {
              "data": {"name": "labels"},
              "transform": [{"filter": "datum.panel === 'c' && datum.kind === 'num'"}],
              "mark": {"type": "text", "fontSize": 22, "baseline": "middle", "align": "center"},
              "encoding": {
                "x": {"field": "wn", "type": "quantitative", "scale": {"domain": [1765.4, 1835.01], "reverse": true, "nice": false, "zero": false}, "axis": null},
                "y": {"field": "abs", "type": "quantitative", "scale": {"domain": [0, 13], "nice": false, "zero": false}, "axis": null},
                "text": {"field": "text"}
              }
            }
          ]
        }
      ]
    }
  ]
}
